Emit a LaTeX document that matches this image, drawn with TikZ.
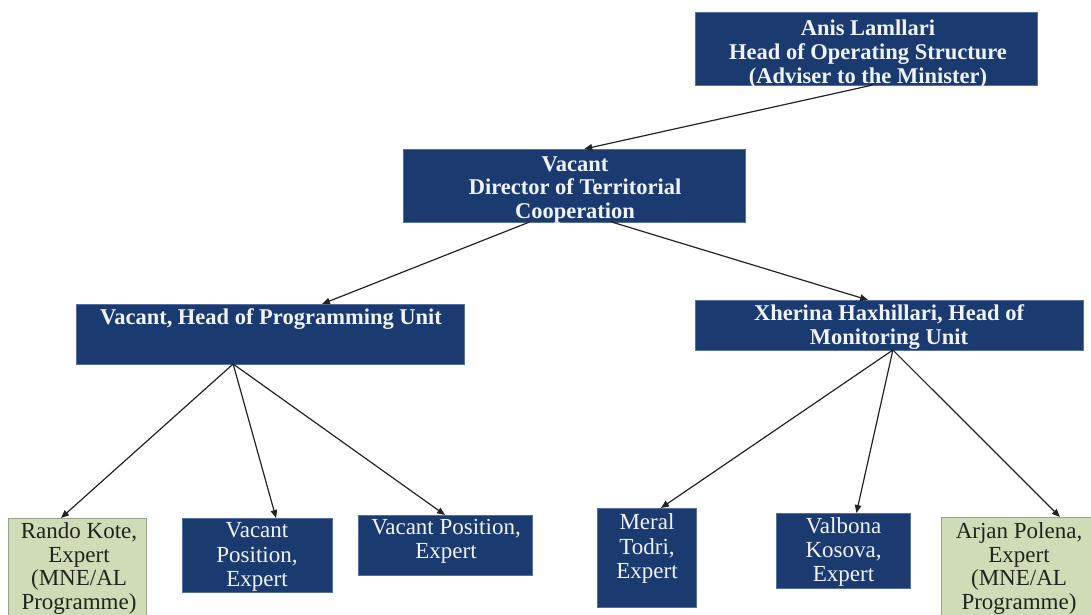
\documentclass[tikz,border=0pt]{standalone}
\usepackage{fontspec}
\setmainfont{Liberation Serif}
\usetikzlibrary{arrows.meta,calc}
\definecolor{navy}{RGB}{27,58,112}
\definecolor{navyedge}{RGB}{85,112,160}
\definecolor{sage}{RGB}{208,220,184}
\definecolor{sageedge}{RGB}{150,162,140}
\definecolor{boxtext}{RGB}{240,244,252}
\definecolor{greentext}{RGB}{30,36,28}
\definecolor{arrowc}{RGB}{35,35,35}
\begin{document}
\begin{tikzpicture}[x=1pt,y=-1pt,
  navybox/.style={draw=navyedge, line width=0.8pt, fill=navy, inner sep=0pt, outer sep=0pt},
  sagebox/.style={draw=sageedge, line width=0.8pt, fill=sage, inner sep=0pt, outer sep=0pt},
  headtext/.style={text=boxtext, inner sep=0pt, align=center, font=\fontsize{22.5}{23.8}\selectfont\bfseries},
  stafftext/.style={text=boxtext, inner sep=0pt, align=center, font=\fontsize{23}{24.2}\selectfont},
  greenlabel/.style={text=greentext, inner sep=0pt, align=center, font=\fontsize{23}{23.6}\selectfont},
  conn/.style={draw=arrowc, line width=1.2pt, -{Triangle[length=8pt,width=6.5pt]}}
]
\clip (0,0) rectangle (1091,615);
\fill[white] (0,0) rectangle (1091,615);

% boxes
\node[navybox, minimum width=342pt, minimum height=73pt] (top) at (866,48.5) {};
\node[navybox, minimum width=342pt, minimum height=73pt] (dir) at (574,185.5) {};
\node[navybox, minimum width=388pt, minimum height=60pt] (prog) at (270,334) {};
\node[navybox, minimum width=388pt, minimum height=50pt] (mon) at (889,325) {};
\node[sagebox, minimum width=138pt, minimum height=122pt] (rando) at (77,579) {};
\node[navybox, minimum width=150pt, minimum height=74pt] (vactwo) at (257,555) {};
\node[navybox, minimum width=174pt, minimum height=60pt] (vacthree) at (445,545) {};
\node[navybox, minimum width=99pt, minimum height=99pt] (meral) at (646.5,557.5) {};
\node[navybox, minimum width=134pt, minimum height=75pt] (valbona) at (843,550.5) {};
\node[sagebox, minimum width=159pt, minimum height=123pt] (arjan) at (1020.5,578.5) {};

% texts
\node[headtext] (topT) at (868,54) {Anis Lamllari\\Head of Operating Structure\\(Adviser to the Minister)};
\node[headtext] (dirT) at (575,190) {Vacant\\Director of Territorial\\Cooperation};
\node[headtext] (progT) at (271,319) {Vacant, Head of Programming Unit};
\node[headtext] (monT) at (889,327) {Xherina Haxhillari, Head of\\Monitoring Unit};
\node[greenlabel] (randoT) at (79,568.5) {Rando Kote,\\Expert\\(MNE/AL\\Programme)};
\node[stafftext] (vactwoT) at (257,557) {Vacant\\Position,\\Expert};
\node[stafftext] (vacthreeT) at (446,541.5) {Vacant Position,\\Expert};
\node[stafftext] (meralT) at (647,548.5) {Meral\\Todri,\\Expert};
\node[stafftext] (valbonaT) at (843.5,552) {Valbona\\Kosova,\\Expert};
\node[greenlabel] (arjanT) at (1019,568.5) {Arjan Polena,\\Expert\\(MNE/AL\\Programme)};

% connectors
\draw[conn] ($(top.south west)!0.52!(top.south east)$) -- ($(dir.north west)!0.53!(dir.north east)$);
\draw[conn] ($(dir.south west)!0.37!(dir.south east)$) -- ($(prog.north west)!0.634!(prog.north east)$);
\draw[conn] ($(dir.south west)!0.61!(dir.south east)$) -- ($(mon.north west)!0.446!(mon.north east)$);
\draw[conn] ($(prog.south west)!0.405!(prog.south east)$) -- ($(rando.north west)!0.384!(rando.north east)$);
\draw[conn] ($(prog.south west)!0.405!(prog.south east)$) -- ($(vactwo.north west)!0.627!(vactwo.north east)$);
\draw[conn] ($(prog.south west)!0.405!(prog.south east)$) -- ($(vacthree.north west)!0.5!(vacthree.north east)$);
\draw[conn] ($(mon.south west)!0.51!(mon.south east)$) -- ($(meral.north west)!0.646!(meral.north east)$);
\draw[conn] ($(mon.south west)!0.51!(mon.south east)$) -- ($(valbona.north west)!0.6!(valbona.north east)$);
\draw[conn] ($(mon.south west)!0.51!(mon.south east)$) -- ($(arjan.north west)!0.748!(arjan.north east)$);
\end{tikzpicture}
\end{document}
